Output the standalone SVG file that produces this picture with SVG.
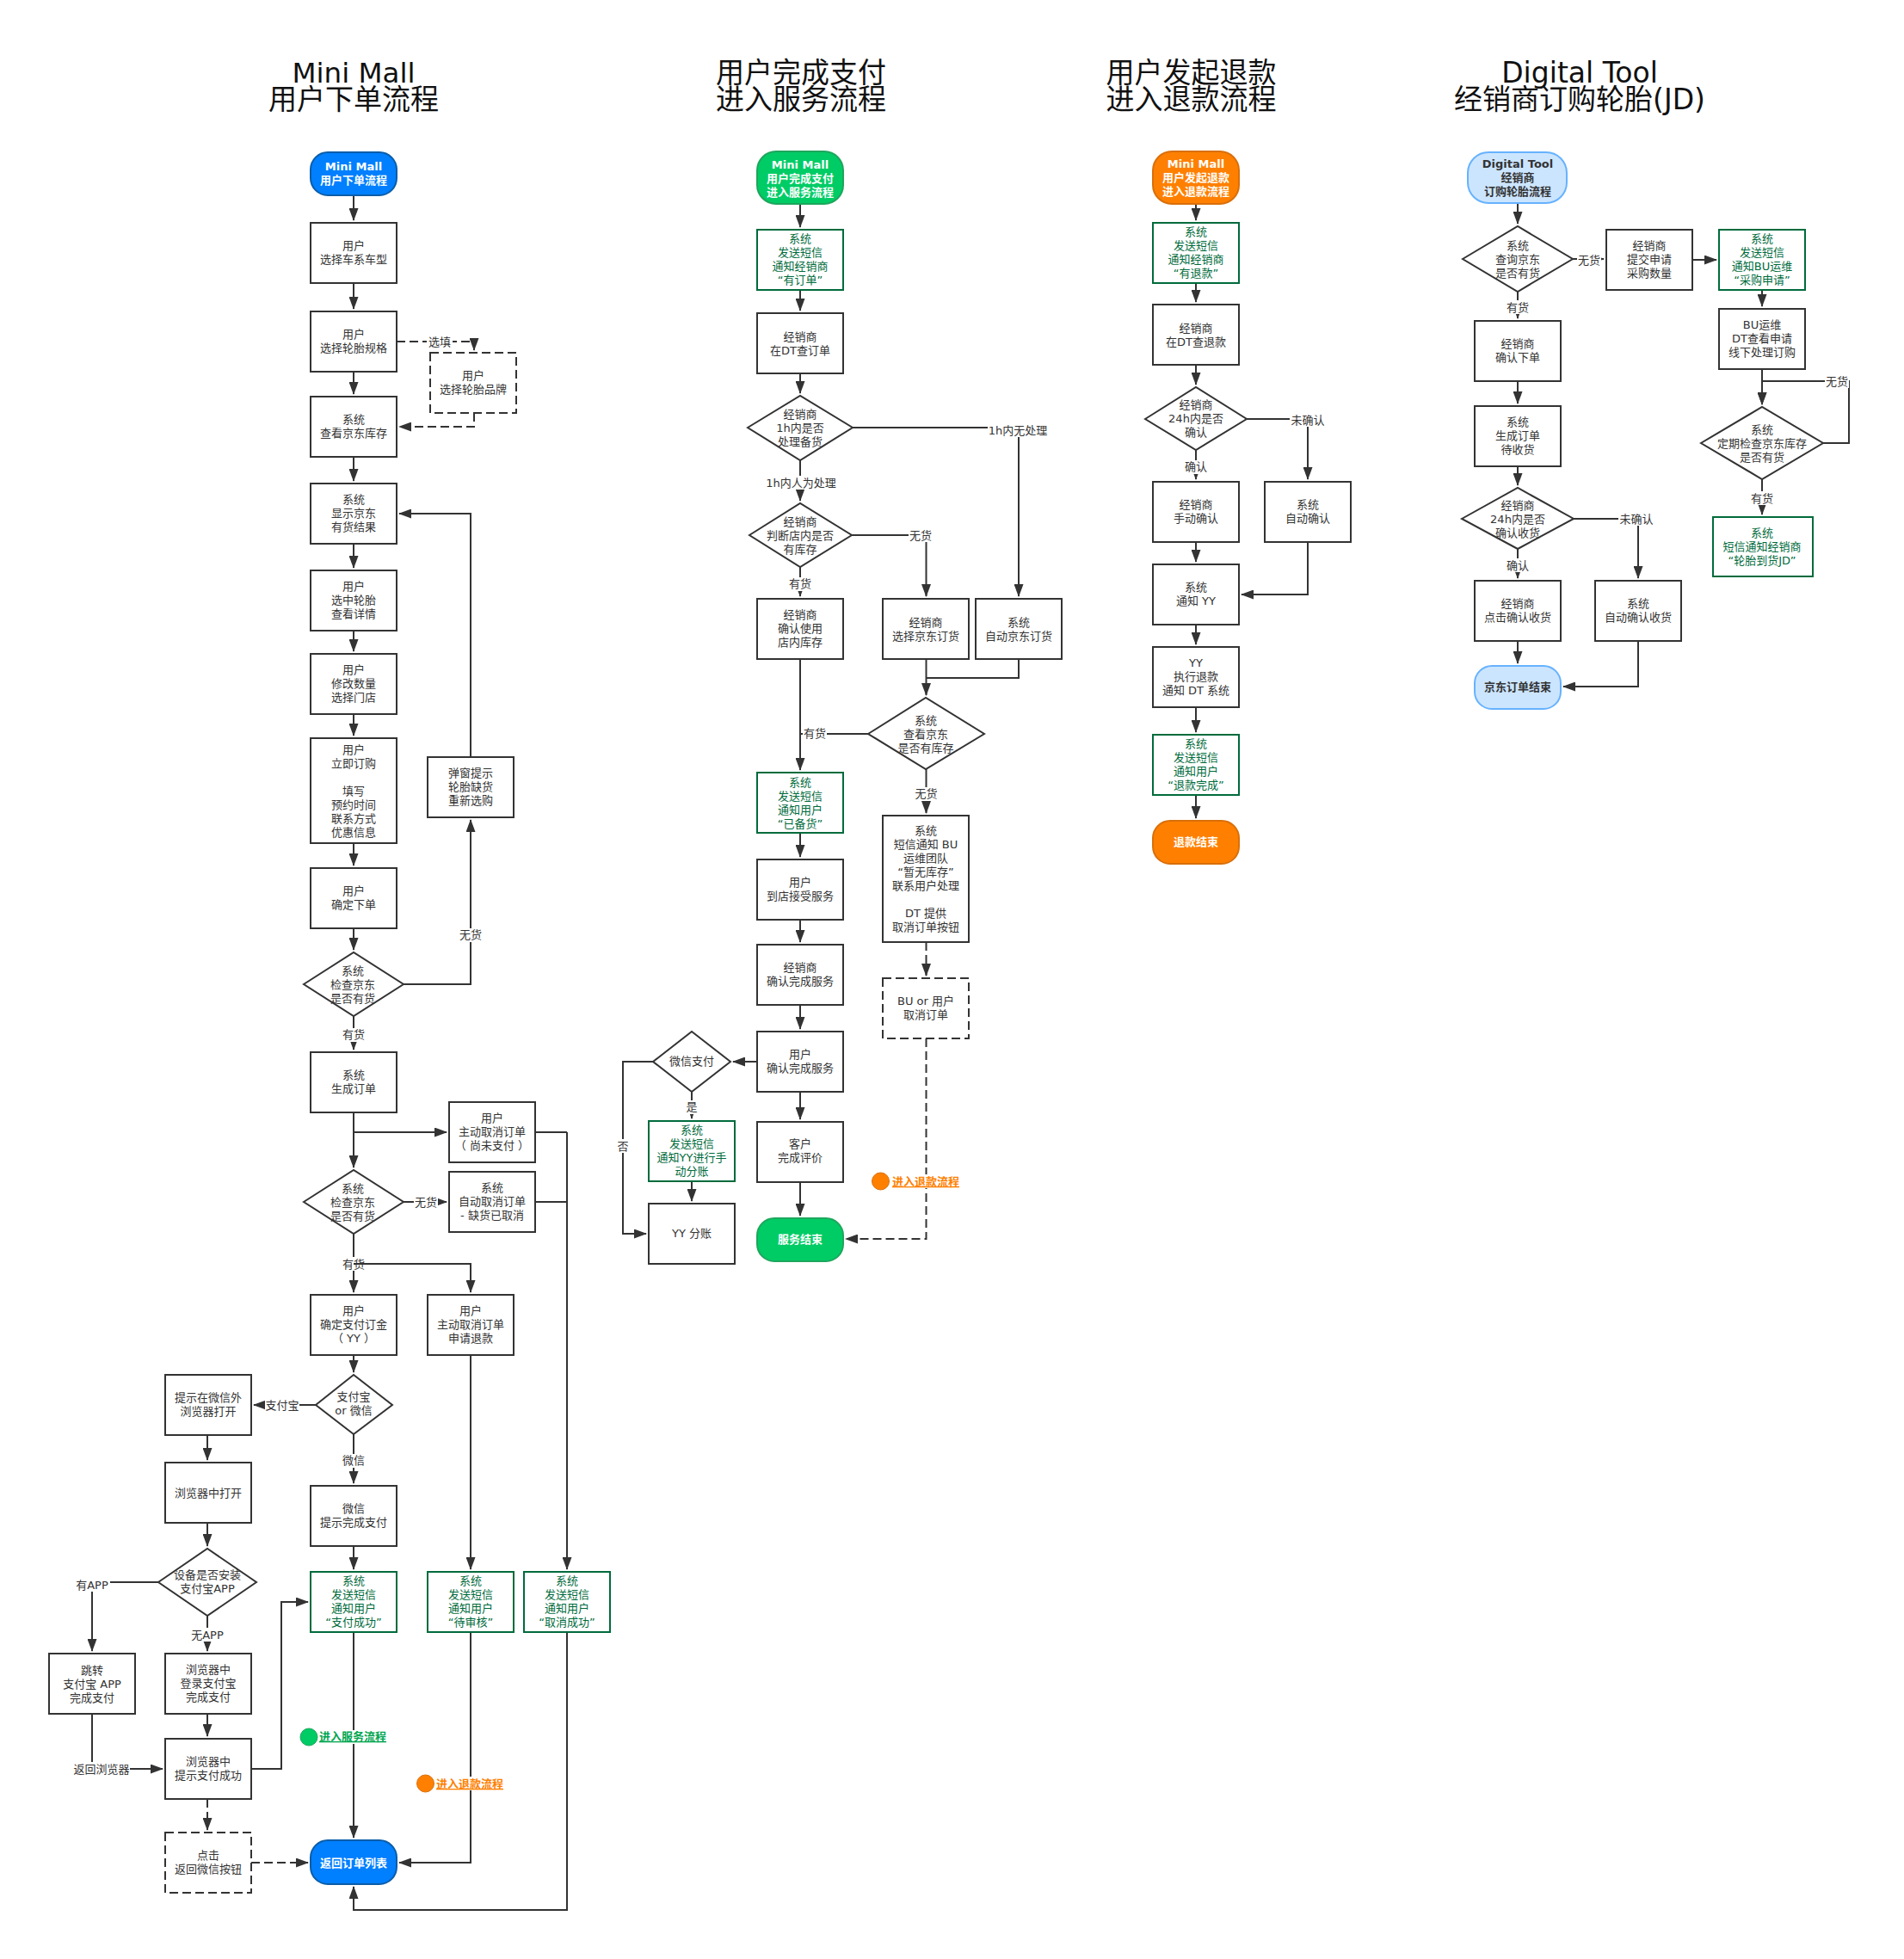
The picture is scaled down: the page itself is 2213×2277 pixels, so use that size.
<svg xmlns="http://www.w3.org/2000/svg" width="2213" height="2277" viewBox="0 0 2213 2277">
<style>
text{font-family:"DejaVu Sans","Noto Sans CJK SC",sans-serif;font-size:13px;fill:#333;text-anchor:middle}
.title{font-size:33px;fill:#111}
.b{fill:#fff;stroke:#333;stroke-width:2}
.d{fill:#fff;stroke:#333;stroke-width:2;stroke-dasharray:10 5}
.g{fill:#fff;stroke:#006B3C;stroke-width:2}
.gt{fill:#006B3C}
.c{fill:none;stroke:#333;stroke-width:2;marker-end:url(#a)}
.n{fill:none;stroke:#333;stroke-width:2}
.cd{fill:none;stroke:#333;stroke-width:2;stroke-dasharray:10 5;marker-end:url(#a)}
.w{fill:#fff;stroke:none}
.st{font-weight:bold;fill:#fff}
.blue{fill:#007FFF;stroke:#0B5DA8;stroke-width:2}
.green{fill:#00CC66;stroke:#1EA65C;stroke-width:2}
.orange{fill:#FF8000;stroke:#D96F0A;stroke-width:2}
.light{fill:#CCE5FF;stroke:#66B2FF;stroke-width:2}
.dk{font-weight:bold;fill:#333}
.lg{font-weight:bold;text-decoration:underline;fill:#00A650;text-anchor:start}
.lo{font-weight:bold;text-decoration:underline;fill:#FF8000;text-anchor:start}
</style>
<defs><marker id="a" markerUnits="userSpaceOnUse" markerWidth="15" markerHeight="11" refX="14" refY="5.500" orient="auto"><path d="M0 0L15 5.500L0 11z" fill="#333"/></marker></defs>
<g id="titles">
<text class="title" x="411" y="96" style="font-size:32.500px">Mini Mall</text>
<text class="title" x="411" y="127">用户下单流程</text>
<text class="title" x="931" y="96">用户完成支付</text>
<text class="title" x="931" y="127">进入服务流程</text>
<text class="title" x="1384.500" y="96">用户发起退款</text>
<text class="title" x="1384.500" y="127">进入退款流程</text>
<text class="title" x="1836" y="96">Digital Tool</text>
<text class="title" x="1836" y="127">经销商订购轮胎(JD)</text>
</g>
<g id="connectors">
<path class="c" d="M411 227V256"/>
<path class="c" d="M411 329V359"/>
<path class="c" d="M411 432V458"/>
<path class="cd" d="M461 397H551V407"/>
<path class="cd" d="M551 480V496H464"/>
<path class="c" d="M411 531V559"/>
<path class="c" d="M411 632V660"/>
<path class="c" d="M411 733V757"/>
<path class="c" d="M411 830V855"/>
<path class="c" d="M411 980V1006"/>
<path class="c" d="M411 1079V1104"/>
<path class="c" d="M469 1144H547V953"/>
<path class="c" d="M547 880V597H464"/>
<path class="c" d="M411 1181V1220"/>
<path class="c" d="M411 1293V1357"/>
<path class="c" d="M411 1316H519"/>
<path class="c" d="M469 1397H519"/>
<path class="c" d="M411 1434V1502"/>
<path class="n" d="M622 1316H659"/>
<path class="n" d="M622 1397H659"/>
<path class="c" d="M659 1316V1824"/>
<path class="c" d="M411 1575V1595"/>
<path class="c" d="M367 1633H295"/>
<path class="c" d="M411 1667V1724"/>
<path class="c" d="M411 1797V1824"/>
<path class="c" d="M241 1668V1697"/>
<path class="c" d="M241 1770V1797"/>
<path class="c" d="M184 1839H107V1919"/>
<path class="c" d="M241 1878V1919"/>
<path class="c" d="M241 1992V2018"/>
<path class="c" d="M107 1992V2056H189"/>
<path class="c" d="M292 2056H327V1862H358"/>
<path class="cd" d="M241 2091V2127"/>
<path class="cd" d="M292 2165H358"/>
<path class="c" d="M411 1897V2136"/>
<path class="c" d="M547 1575V1824"/>
<path class="c" d="M547 1897V2165H464"/>
<path class="c" d="M659 1897V2220H411V2193"/>
<path class="c" d="M930 237V264"/>
<path class="c" d="M930 337V361"/>
<path class="c" d="M930 434V457"/>
<path class="c" d="M930 535V582"/>
<path class="c" d="M991 497H1184V693"/>
<path class="c" d="M990 622H1076.500V693"/>
<path class="c" d="M930 659V693"/>
<path class="n" d="M930 766V895"/>
<path class="c" d="M1009 853H930V895"/>
<path class="c" d="M1076.500 766V808"/>
<path class="n" d="M1184 766V788H1076.500"/>
<path class="c" d="M1076.500 894V945"/>
<path class="cd" d="M1076.500 1095V1134"/>
<path class="cd" d="M1076.500 1207V1440H983"/>
<path class="c" d="M930 968V996"/>
<path class="c" d="M930 1069V1095"/>
<path class="c" d="M930 1168V1196"/>
<path class="c" d="M930 1269V1301"/>
<path class="c" d="M930 1374V1413"/>
<path class="c" d="M880 1234H852"/>
<path class="c" d="M804 1269V1300"/>
<path class="c" d="M804 1373V1396"/>
<path class="c" d="M759 1234H724V1434H751"/>
<path class="c" d="M1390 237V256"/>
<path class="c" d="M1390 329V351"/>
<path class="c" d="M1390 424V447"/>
<path class="c" d="M1390 523V557"/>
<path class="c" d="M1449 487H1520V557"/>
<path class="c" d="M1390 630V653"/>
<path class="c" d="M1520 630V691H1443"/>
<path class="c" d="M1390 726V749"/>
<path class="c" d="M1390 822V851"/>
<path class="c" d="M1390 924V951"/>
<path class="c" d="M1764 236V260"/>
<path class="c" d="M1828 301H1864"/>
<path class="c" d="M1967 302H1995"/>
<path class="c" d="M2048 337V356"/>
<path class="c" d="M2048 429V470"/>
<path class="c" d="M2119 515H2149V443H2048V470"/>
<path class="c" d="M2048 557V598"/>
<path class="c" d="M1764 339V370"/>
<path class="c" d="M1764 443V469"/>
<path class="c" d="M1764 542V564"/>
<path class="c" d="M1764 638V672"/>
<path class="c" d="M1829 603H1904V672"/>
<path class="c" d="M1764 745V771"/>
<path class="c" d="M1904 745V798H1817"/>
<g id="labels">
<rect class="w" x="496" y="389" width="30" height="16"/><text x="511" y="402">选填</text>
<rect class="w" x="533" y="1079" width="28" height="16"/><text x="547" y="1091">无货</text>
<rect class="w" x="397" y="1195" width="28" height="16"/><text x="411" y="1207">有货</text>
<rect class="w" x="481" y="1389" width="28" height="16"/><text x="495" y="1402">无货</text>
<rect class="w" x="397" y="1461" width="28" height="16"/><text x="411" y="1474">有货</text>
<rect class="w" x="308" y="1625" width="40" height="16"/><text x="328" y="1638">支付宝</text>
<rect class="w" x="397" y="1690" width="28" height="16"/><text x="411" y="1702">微信</text>
<rect class="w" x="86" y="1834" width="42" height="16"/><text x="107" y="1847">有APP</text>
<rect class="w" x="220" y="1892" width="42" height="16"/><text x="241" y="1905">无APP</text>
<rect class="w" x="85" y="2048" width="66" height="16"/><text x="118" y="2061">返回浏览器</text>
<rect class="w" x="892" y="553" width="78" height="16"/><text x="931" y="566">1h内人为处理</text>
<rect class="w" x="1148" y="492" width="70" height="16"/><text x="1183" y="505">1h内无处理</text>
<rect class="w" x="1056" y="614" width="28" height="16"/><text x="1070" y="627">无货</text>
<rect class="w" x="916" y="671" width="28" height="16"/><text x="930" y="683">有货</text>
<rect class="w" x="933" y="845" width="28" height="16"/><text x="947" y="857">有货</text>
<rect class="w" x="1062.500" y="915" width="28" height="16"/><text x="1076.500" y="927">无货</text>
<rect class="w" x="797" y="1279" width="14" height="16"/><text x="804" y="1291">是</text>
<rect class="w" x="717" y="1324" width="14" height="16"/><text x="724" y="1337">否</text>
<rect class="w" x="1499" y="480" width="42" height="16"/><text x="1520" y="493">未确认</text>
<rect class="w" x="1376" y="535" width="28" height="16"/><text x="1390" y="547">确认</text>
<rect class="w" x="1833" y="294" width="28" height="16"/><text x="1847" y="307">无货</text>
<rect class="w" x="1750" y="349" width="28" height="16"/><text x="1764" y="362">有货</text>
<rect class="w" x="1881" y="595" width="42" height="16"/><text x="1902" y="608">未确认</text>
<rect class="w" x="1750" y="649" width="28" height="16"/><text x="1764" y="662">确认</text>
<rect class="w" x="2121" y="435" width="28" height="16"/><text x="2135" y="448">无货</text>
<rect class="w" x="2034" y="571" width="28" height="16"/><text x="2048" y="584">有货</text>
</g>
<path class="c" d="M411 1469H547V1502"/>
</g>

<g id="m1"><rect class="blue" x="361" y="177" width="100" height="50" rx="20"/><text class="st" x="411" y="198">Mini Mall<tspan x="411" dy="16">用户下单流程</tspan></text></g>
<g id="m2"><rect class="b" x="361" y="259" width="100" height="70"/><text x="411" y="290">用户<tspan x="411" dy="16">选择车系车型</tspan></text></g>
<g id="m3"><rect class="b" x="361" y="362" width="100" height="70"/><text x="411" y="393">用户<tspan x="411" dy="16">选择轮胎规格</tspan></text></g>
<g id="m4"><rect class="d" x="500" y="410" width="100" height="70"/><text x="550" y="441">用户<tspan x="550" dy="16">选择轮胎品牌</tspan></text></g>
<g id="m5"><rect class="b" x="361" y="461" width="100" height="70"/><text x="411" y="492">系统<tspan x="411" dy="16">查看京东库存</tspan></text></g>
<g id="m6"><rect class="b" x="361" y="562" width="100" height="70"/><text x="411" y="585">系统<tspan x="411" dy="16">显示京东</tspan><tspan x="411" dy="16">有货结果</tspan></text></g>
<g id="m7"><rect class="b" x="361" y="663" width="100" height="70"/><text x="411" y="686">用户<tspan x="411" dy="16">选中轮胎</tspan><tspan x="411" dy="16">查看详情</tspan></text></g>
<g id="m8"><rect class="b" x="361" y="760" width="100" height="70"/><text x="411" y="783">用户<tspan x="411" dy="16">修改数量</tspan><tspan x="411" dy="16">选择门店</tspan></text></g>
<g id="m9"><rect class="b" x="361" y="858" width="100" height="122"/><text x="411" y="876">用户<tspan x="411" dy="16">立即订购</tspan><tspan x="411" dy="32">填写</tspan><tspan x="411" dy="16">预约时间</tspan><tspan x="411" dy="16">联系方式</tspan><tspan x="411" dy="16">优惠信息</tspan></text></g>
<g id="m10"><rect class="b" x="497" y="880" width="100" height="70"/><text x="547" y="903">弹窗提示<tspan x="547" dy="16">轮胎缺货</tspan><tspan x="547" dy="16">重新选购</tspan></text></g>
<g id="m11"><rect class="b" x="361" y="1009" width="100" height="70"/><text x="411" y="1040">用户<tspan x="411" dy="16">确定下单</tspan></text></g>
<g id="m12"><polygon class="b" points="353,1144 411,1107 469,1144 411,1181"/><text x="410" y="1133">系统<tspan x="410" dy="16">检查京东</tspan><tspan x="410" dy="16">是否有货</tspan></text></g>
<g id="m13"><rect class="b" x="361" y="1223" width="100" height="70"/><text x="411" y="1254">系统<tspan x="411" dy="16">生成订单</tspan></text></g>
<g id="m14"><rect class="b" x="522" y="1281" width="100" height="70"/><text x="572" y="1304">用户<tspan x="572" dy="16">主动取消订单</tspan><tspan x="572" dy="16">（ 尚未支付 ）</tspan></text></g>
<g id="m15"><polygon class="b" points="353,1397 411,1360 469,1397 411,1434"/><text x="410" y="1386">系统<tspan x="410" dy="16">检查京东</tspan><tspan x="410" dy="16">是否有货</tspan></text></g>
<g id="m16"><rect class="b" x="522" y="1362" width="100" height="70"/><text x="572" y="1385">系统<tspan x="572" dy="16">自动取消订单</tspan><tspan x="572" dy="16">- 缺货已取消</tspan></text></g>
<g id="m17"><rect class="b" x="361" y="1505" width="100" height="70"/><text x="411" y="1528">用户<tspan x="411" dy="16">确定支付订金</tspan><tspan x="411" dy="16">（ YY ）</tspan></text></g>
<g id="m18"><rect class="b" x="497" y="1505" width="100" height="70"/><text x="547" y="1528">用户<tspan x="547" dy="16">主动取消订单</tspan><tspan x="547" dy="16">申请退款</tspan></text></g>
<g id="m19"><polygon class="b" points="367,1633 411,1598 456,1633 411,1667"/><text x="411" y="1628">支付宝<tspan x="411" dy="16">or 微信</tspan></text></g>
<g id="m20"><rect class="b" x="192" y="1598" width="100" height="70"/><text x="242" y="1629">提示在微信外<tspan x="242" dy="16">浏览器打开</tspan></text></g>
<g id="m21"><rect class="b" x="192" y="1700" width="100" height="70"/><text x="242" y="1740">浏览器中打开</text></g>
<g id="m22"><polygon class="b" points="184,1839 241,1800 298,1839 241,1878"/><text x="241" y="1835">设备是否安装<tspan x="241" dy="16">支付宝APP</tspan></text></g>
<g id="m23"><rect class="b" x="57" y="1922" width="100" height="70"/><text x="107" y="1945.500">跳转<tspan x="107" dy="16">支付宝 APP</tspan><tspan x="107" dy="16">完成支付</tspan></text></g>
<g id="m24"><rect class="b" x="192" y="1922" width="100" height="70"/><text x="242" y="1945">浏览器中<tspan x="242" dy="16">登录支付宝</tspan><tspan x="242" dy="16">完成支付</tspan></text></g>
<g id="m25"><rect class="b" x="192" y="2021" width="100" height="70"/><text x="242" y="2052">浏览器中<tspan x="242" dy="16">提示支付成功</tspan></text></g>
<g id="m26"><rect class="d" x="192" y="2130" width="100" height="70"/><text x="242" y="2161">点击<tspan x="242" dy="16">返回微信按钮</tspan></text></g>
<g id="m27"><rect class="b" x="361" y="1727" width="100" height="70"/><text x="411" y="1758">微信<tspan x="411" dy="16">提示完成支付</tspan></text></g>
<g id="m28"><rect class="g" x="361" y="1827" width="100" height="70"/><text class="gt" x="411" y="1842">系统<tspan x="411" dy="16">发送短信</tspan><tspan x="411" dy="16">通知用户</tspan><tspan x="411" dy="16">“支付成功”</tspan></text></g>
<g id="m29"><rect class="g" x="497" y="1827" width="100" height="70"/><text class="gt" x="547" y="1842">系统<tspan x="547" dy="16">发送短信</tspan><tspan x="547" dy="16">通知用户</tspan><tspan x="547" dy="16">“待审核”</tspan></text></g>
<g id="m30"><rect class="g" x="609" y="1827" width="100" height="70"/><text class="gt" x="659" y="1842">系统<tspan x="659" dy="16">发送短信</tspan><tspan x="659" dy="16">通知用户</tspan><tspan x="659" dy="16">“取消成功”</tspan></text></g>
<g id="m31"><rect class="w" x="371" y="2011" width="78" height="16"/><circle cx="359" cy="2019" r="10" fill="#00CC66" stroke="#1EA65C"/><text class="lg" x="371" y="2023">进入服务流程</text></g>
<g id="m32"><rect class="w" x="507" y="2065" width="78" height="16"/><circle cx="494.500" cy="2073" r="10" fill="#FF8000" stroke="#D96F0A"/><text class="lo" x="507" y="2078">进入退款流程</text></g>
<g id="m33"><rect class="blue" x="361" y="2139" width="100" height="51" rx="20"/><text class="st" x="411" y="2170">返回订单列表</text></g>

<g id="s1"><rect class="green" x="880" y="176" width="100" height="61" rx="22"/><text class="st" x="930" y="196">Mini Mall<tspan x="930" dy="16">用户完成支付</tspan><tspan x="930" dy="16">进入服务流程</tspan></text></g>
<g id="s2"><rect class="g" x="880" y="267" width="100" height="70"/><text class="gt" x="930" y="282">系统<tspan x="930" dy="16">发送短信</tspan><tspan x="930" dy="16">通知经销商</tspan><tspan x="930" dy="16">“有订单”</tspan></text></g>
<g id="s3"><rect class="b" x="880" y="364" width="100" height="70"/><text x="930" y="396">经销商<tspan x="930" dy="16">在DT查订单</tspan></text></g>
<g id="s4"><polygon class="b" points="869,497 930,460 991,497 930,535"/><text x="930" y="486">经销商<tspan x="930" dy="16">1h内是否</tspan><tspan x="930" dy="16">处理备货</tspan></text></g>
<g id="s5"><polygon class="b" points="871,622 930,585 990,622 930,659"/><text x="930" y="611">经销商<tspan x="930" dy="16">判断店内是否</tspan><tspan x="930" dy="16">有库存</tspan></text></g>
<g id="s6"><rect class="b" x="880" y="696" width="100" height="70"/><text x="930" y="719">经销商<tspan x="930" dy="16">确认使用</tspan><tspan x="930" dy="16">店内库存</tspan></text></g>
<g id="s7"><rect class="b" x="1026" y="696" width="100" height="70"/><text x="1076" y="728">经销商<tspan x="1076" dy="16">选择京东订货</tspan></text></g>
<g id="s8"><rect class="b" x="1134" y="696" width="100" height="70"/><text x="1184" y="728">系统<tspan x="1184" dy="16">自动京东订货</tspan></text></g>
<g id="s9"><polygon class="b" points="1009,853 1076,811 1144,853 1076,894"/><text x="1076" y="842">系统<tspan x="1076" dy="16">查看京东</tspan><tspan x="1076" dy="16">是否有库存</tspan></text></g>
<g id="s10"><rect class="g" x="880" y="898" width="100" height="70"/><text class="gt" x="930" y="914">系统<tspan x="930" dy="16">发送短信</tspan><tspan x="930" dy="16">通知用户</tspan><tspan x="930" dy="16">“已备货”</tspan></text></g>
<g id="s11"><rect class="b" x="880" y="999" width="100" height="70"/><text x="930" y="1030">用户<tspan x="930" dy="16">到店接受服务</tspan></text></g>
<g id="s12"><rect class="b" x="880" y="1098" width="100" height="70"/><text x="930" y="1129">经销商<tspan x="930" dy="16">确认完成服务</tspan></text></g>
<g id="s13"><rect class="b" x="880" y="1199" width="100" height="70"/><text x="930" y="1230">用户<tspan x="930" dy="16">确认完成服务</tspan></text></g>
<g id="s14"><rect class="b" x="880" y="1304" width="100" height="70"/><text x="930" y="1334">客户<tspan x="930" dy="16">完成评价</tspan></text></g>
<g id="s15"><rect class="green" x="880" y="1416" width="100" height="50" rx="20"/><text class="st" x="930" y="1445">服务结束</text></g>
<g id="s16"><rect class="b" x="1026" y="948" width="100" height="147"/><text x="1076" y="970">系统<tspan x="1076" dy="16">短信通知 BU</tspan><tspan x="1076" dy="16">运维团队</tspan><tspan x="1076" dy="16">“暂无库存”</tspan><tspan x="1076" dy="16">联系用户处理</tspan><tspan x="1076" dy="32">DT 提供</tspan><tspan x="1076" dy="16">取消订单按钮</tspan></text></g>
<g id="s17"><rect class="d" x="1026" y="1137" width="100" height="70"/><text x="1076" y="1168">BU or 用户<tspan x="1076" dy="16">取消订单</tspan></text></g>
<g id="s18"><polygon class="b" points="759,1234 804,1199 849,1234 804,1269"/><text x="804" y="1238">微信支付</text></g>
<g id="s19"><rect class="g" x="754" y="1303" width="100" height="70"/><text class="gt" x="804" y="1318">系统<tspan x="804" dy="16">发送短信</tspan><tspan x="804" dy="16">通知YY进行手</tspan><tspan x="804" dy="16">动分账</tspan></text></g>
<g id="s20"><rect class="b" x="754" y="1399" width="100" height="70"/><text x="804" y="1438">YY 分账</text></g>
<g id="s21"><rect class="w" x="1037" y="1365" width="78" height="16"/><circle cx="1023.500" cy="1373" r="10" fill="#FF8000" stroke="#D96F0A"/><text class="lo" x="1037" y="1378">进入退款流程</text></g>

<g id="r1"><rect class="orange" x="1340" y="176" width="100" height="61" rx="22"/><text class="st" x="1390" y="194.500">Mini Mall<tspan x="1390" dy="16">用户发起退款</tspan><tspan x="1390" dy="16">进入退款流程</tspan></text></g>
<g id="r2"><rect class="g" x="1340" y="259" width="100" height="70"/><text class="gt" x="1390" y="274">系统<tspan x="1390" dy="16">发送短信</tspan><tspan x="1390" dy="16">通知经销商</tspan><tspan x="1390" dy="16">“有退款”</tspan></text></g>
<g id="r3"><rect class="b" x="1340" y="354" width="100" height="70"/><text x="1390" y="386">经销商<tspan x="1390" dy="16">在DT查退款</tspan></text></g>
<g id="r4"><polygon class="b" points="1331,487 1390,450 1449,487 1390,523"/><text x="1390" y="475">经销商<tspan x="1390" dy="16">24h内是否</tspan><tspan x="1390" dy="16">确认</tspan></text></g>
<g id="r5"><rect class="b" x="1340" y="560" width="100" height="70"/><text x="1390" y="591">经销商<tspan x="1390" dy="16">手动确认</tspan></text></g>
<g id="r6"><rect class="b" x="1470" y="560" width="100" height="70"/><text x="1520" y="591">系统<tspan x="1520" dy="16">自动确认</tspan></text></g>
<g id="r7"><rect class="b" x="1340" y="656" width="100" height="70"/><text x="1390" y="686.500">系统<tspan x="1390" dy="16">通知 YY</tspan></text></g>
<g id="r8"><rect class="b" x="1340" y="752" width="100" height="70"/><text x="1390" y="775">YY<tspan x="1390" dy="16">执行退款</tspan><tspan x="1390" dy="16">通知 DT 系统</tspan></text></g>
<g id="r9"><rect class="g" x="1340" y="854" width="100" height="70"/><text class="gt" x="1390" y="869">系统<tspan x="1390" dy="16">发送短信</tspan><tspan x="1390" dy="16">通知用户</tspan><tspan x="1390" dy="16">“退款完成”</tspan></text></g>
<g id="r10"><rect class="orange" x="1340" y="954" width="100" height="50" rx="20"/><text class="st" x="1390" y="983">退款结束</text></g>

<g id="d1"><rect class="light" x="1706" y="177" width="115" height="59" rx="24"/><text class="dk" x="1764" y="194.500">Digital Tool<tspan x="1764" dy="16">经销商</tspan><tspan x="1764" dy="16">订购轮胎流程</tspan></text></g>
<g id="d2"><polygon class="b" points="1700,301 1764,263 1828,301 1764,339"/><text x="1764" y="290">系统<tspan x="1764" dy="16">查询京东</tspan><tspan x="1764" dy="16">是否有货</tspan></text></g>
<g id="d3"><rect class="b" x="1714" y="373" width="100" height="70"/><text x="1764" y="404">经销商<tspan x="1764" dy="16">确认下单</tspan></text></g>
<g id="d4"><rect class="b" x="1714" y="472" width="100" height="70"/><text x="1764" y="495">系统<tspan x="1764" dy="16">生成订单</tspan><tspan x="1764" dy="16">待收货</tspan></text></g>
<g id="d5"><polygon class="b" points="1699,603 1764,567 1829,603 1764,638"/><text x="1764" y="592">经销商<tspan x="1764" dy="16">24h内是否</tspan><tspan x="1764" dy="16">确认收货</tspan></text></g>
<g id="d6"><rect class="b" x="1714" y="675" width="100" height="70"/><text x="1764" y="706">经销商<tspan x="1764" dy="16">点击确认收货</tspan></text></g>
<g id="d7"><rect class="b" x="1854" y="675" width="100" height="70"/><text x="1904" y="706">系统<tspan x="1904" dy="16">自动确认收货</tspan></text></g>
<g id="d8"><rect class="light" x="1714" y="774" width="100" height="50" rx="20"/><text class="dk" x="1764" y="803">京东订单结束</text></g>
<g id="d9"><rect class="b" x="1867" y="267" width="100" height="70"/><text x="1917" y="290">经销商<tspan x="1917" dy="16">提交申请</tspan><tspan x="1917" dy="16">采购数量</tspan></text></g>
<g id="d10"><rect class="g" x="1998" y="267" width="100" height="70"/><text class="gt" x="2048" y="282">系统<tspan x="2048" dy="16">发送短信</tspan><tspan x="2048" dy="16">通知BU运维</tspan><tspan x="2048" dy="16">“采购申请”</tspan></text></g>
<g id="d11"><rect class="b" x="1998" y="359" width="100" height="70"/><text x="2048" y="382">BU运维<tspan x="2048" dy="16">DT查看申请</tspan><tspan x="2048" dy="16">线下处理订购</tspan></text></g>
<g id="d12"><polygon class="b" points="1977,515 2048,473 2119,515 2048,557"/><text x="2048" y="504">系统<tspan x="2048" dy="16">定期检查京东库存</tspan><tspan x="2048" dy="16">是否有货</tspan></text></g>
<g id="d13"><rect class="g" x="1991" y="601" width="116" height="69"/><text class="gt" x="2048" y="624">系统<tspan x="2048" dy="16">短信通知经销商</tspan><tspan x="2048" dy="16">“轮胎到货JD”</tspan></text></g>
</svg>
